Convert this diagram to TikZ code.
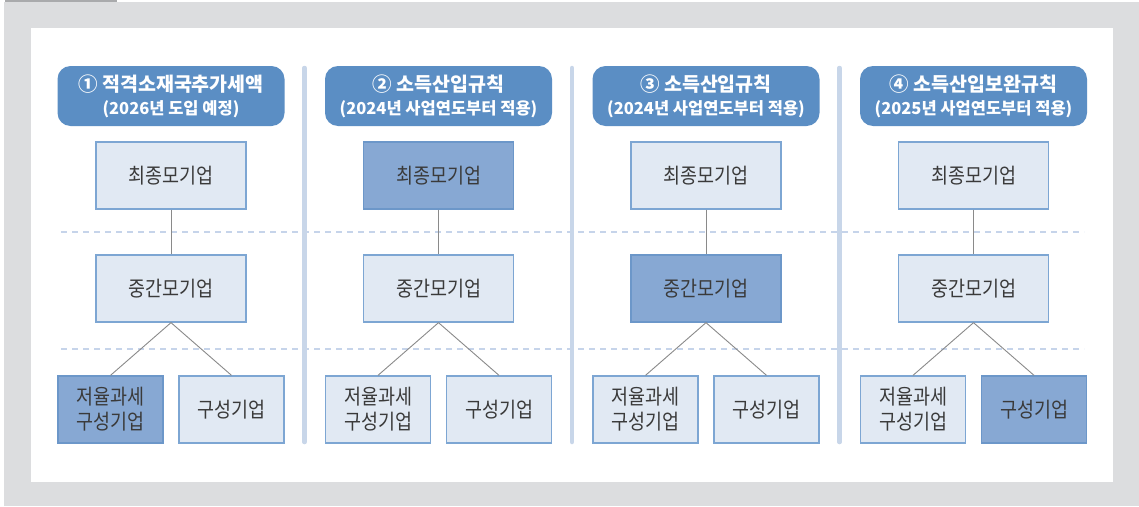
\documentclass[tikz,border=0pt]{standalone}
\usepackage{fontspec}
\setmainfont{Noto Sans CJK KR}
\newfontfamily\boxfont{Noto Sans CJK KR}[FakeStretch=0.88]
\definecolor{bggray}{HTML}{DCDDDF}
\definecolor{tabgray}{HTML}{A9AAAC}
\definecolor{pillblue}{HTML}{5B8EC4}
\definecolor{boxfill}{HTML}{E1E9F3}
\definecolor{boxline}{HTML}{7DA6D3}
\definecolor{hifill}{HTML}{87A8D3}
\definecolor{hiline}{HTML}{6C97C9}
\definecolor{sepblue}{HTML}{C8D6E9}
\definecolor{dashblue}{HTML}{C6D4EA}
\definecolor{txt}{HTML}{3A3A3A}
\definecolor{conn}{HTML}{8A8A8A}
\newcommand{\pilltwo}[1]{{\fontsize{16.5}{23}\selectfont #1}}
\begin{document}
\begin{tikzpicture}[x=1pt,y=-1pt,
  pill/.style={fill=pillblue,rounded corners=13pt,minimum width=227pt,minimum height=60pt,inner sep=0pt,text=white,align=center,font=\fontsize{19.5}{23}\selectfont\bfseries},
  orgbox/.style={draw=boxline,line width=1.3pt,fill=boxfill,minimum width=150pt,minimum height=67pt,inner sep=0pt,text=txt,align=center,font=\boxfont\fontsize{21}{25}\selectfont},
  smallbox/.style={orgbox,minimum width=105pt},
  hi/.style={draw=hiline,fill=hifill},
  conn/.style={draw=conn,line width=0.9pt},
  sep/.style={draw=sepblue,line width=4.5pt,line cap=round},
  dashl/.style={draw=dashblue,line width=1.1pt,dash pattern=on 6pt off 5pt}]
\useasboundingbox (0,0) rectangle (1139,506);
\fill[bggray] (4,2) rectangle (1139,506);
\fill[tabgray] (5,0) rectangle (117,2);
\fill[white] (31,28) rectangle (1113,482);
% dashed guides
\coordinate (d1a) at (61,232); \coordinate (d1b) at (1084,232);
\coordinate (d2a) at (61,349); \coordinate (d2b) at (1084,349);
\draw[dashl] (d1a) -- (d1b);
\draw[dashl] (d2a) -- (d2b);
% separators
\foreach \sx/\n in {304.5/1,572/2,839.5/3}{
  \coordinate (s\n a) at (\sx,68);
  \coordinate (s\n b) at (\sx,442);
  \draw[sep] (s\n a) -- (s\n b);
}
% pills
\node[pill] (p1) at (171,96) {① 적격소재국추가세액\\\pilltwo{(2026년 도입 예정)}};
\node[pill] (p2) at (438.5,96) {② 소득산입규칙\\\pilltwo{(2024년 사업연도부터 적용)}};
\node[pill] (p3) at (706,96) {③ 소득산입규칙\\\pilltwo{(2024년 사업연도부터 적용)}};
\node[pill] (p4) at (973.5,96) {④ 소득산입보완규칙\\\pilltwo{(2025년 사업연도부터 적용)}};
% column 1
\node[orgbox] (t1) at (171,175.5) {최종모기업};
\node[orgbox] (m1) at (171,288.5) {중간모기업};
\node[smallbox,hi] (l1) at (110.5,409.5) {저율과세\\구성기업};
\node[smallbox] (r1) at (231.5,409.5) {구성기업};
% column 2
\node[orgbox,hi] (t2) at (438.5,175.5) {최종모기업};
\node[orgbox] (m2) at (438.5,288.5) {중간모기업};
\node[smallbox] (l2) at (378,409.5) {저율과세\\구성기업};
\node[smallbox] (r2) at (499,409.5) {구성기업};
% column 3
\node[orgbox] (t3) at (706,175.5) {최종모기업};
\node[orgbox,hi] (m3) at (706,288.5) {중간모기업};
\node[smallbox] (l3) at (645.5,409.5) {저율과세\\구성기업};
\node[smallbox] (r3) at (766.5,409.5) {구성기업};
% column 4
\node[orgbox] (t4) at (973.5,175.5) {최종모기업};
\node[orgbox] (m4) at (973.5,288.5) {중간모기업};
\node[smallbox] (l4) at (913,409.5) {저율과세\\구성기업};
\node[smallbox,hi] (r4) at (1034,409.5) {구성기업};
% connectors
\foreach \i in {1,2,3,4}{
  \draw[conn] (t\i.south) -- (m\i.north);
  \draw[conn] (m\i.south) -- (l\i.north);
  \draw[conn] (m\i.south) -- (r\i.north);
}
\end{tikzpicture}
\end{document}
